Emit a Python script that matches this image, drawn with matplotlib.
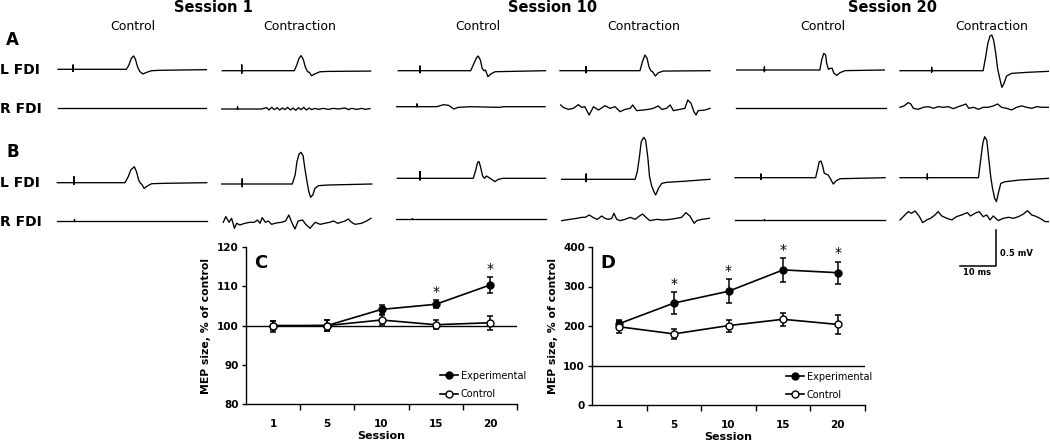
import numpy as np
import matplotlib.pyplot as plt
from matplotlib.lines import Line2D

W, H = 1050, 441
PX_MS = 3.6    # trace panels: pixels per ms
PX_MV = 72.0   # trace panels: pixels per mV

# ---- MEP summary data (panels C and D) ----
sessions = ['1', '5', '10', '15', '20']
c_exp = [100.0, 100.0, 104.1, 105.4, 110.3]
c_exp_err = [1.2, 1.3, 1.2, 1.0, 2.1]
c_ctl = [99.8, 100.0, 101.4, 100.2, 100.7]
c_ctl_err = [1.4, 1.4, 1.3, 1.2, 1.8]
c_sig = [False, False, False, True, True]

d_exp = [206, 258, 288, 342, 335]
d_exp_err = [9, 27, 30, 30, 28]
d_ctl = [198, 180, 201, 217, 204]
d_ctl_err = [15, 13, 15, 17, 23]
d_sig = [False, True, True, True, True]

# ---- example EMG traces, time in ms, amplitude in mV ----
s1_ctl_AL_t = [0, 4.2, 4.2, 4.2, 4.2, 19.0, 19.7, 20.4, 21.0, 21.5, 22.1, 22.7, 23.6, 24.5, 25.9, 28.2, 41.2]
s1_ctl_AL_v = [0, 0, 0.06, -0.03, 0, 0, 0.06, 0.155, 0.185, 0.14, 0.035, -0.03, -0.065, -0.045, -0.02, -0.014, -0.005]
s1_ctl_AR_t = [0, 41.2]
s1_ctl_AR_v = [0, 0]
s1_con_AL_t = [0, 5.4, 5.4, 5.4, 5.4, 20.0, 20.7, 21.3, 21.9, 22.5, 23.1, 23.7, 24.2, 24.8, 25.7, 27.1, 29.4, 41.2]
s1_con_AL_v = [0, 0, 0.08, -0.035, 0, 0, 0.08, 0.17, 0.21, 0.155, 0.045, -0.015, -0.023, -0.07, -0.045, -0.015, -0.01, -0.005]
s1_con_AR_t = [0, 4.4, 4.4, 4.4, 11.1, 12.5, 13.1, 13.9, 14.6, 15.4, 16.1, 16.9, 17.6, 18.3, 19.1, 19.8, 20.6, 21.3,
               22.0, 22.8, 23.5, 24.3, 25.0, 25.9, 26.9, 28.2, 29.6, 31.0, 32.4, 34.3, 35.2, 36.1, 37.5, 38.9, 39.8, 41.2]
s1_con_AR_v = [0, 0, 0.03, 0, 0, 0.019, -0.014, 0.023, -0.009, 0.019, -0.014, 0.014, -0.009, 0.023, -0.014, 0.014,
               -0.019, 0.019, -0.009, 0.023, -0.014, 0.014, -0.009, 0.009, -0.005, 0.009, -0.005, 0.009, 0, 0.014,
               -0.009, 0.009, -0.005, 0.009, -0.005, 0.005]
s1_ctl_BL_t = [0, 4.6, 4.6, 4.6, 4.6, 18.8, 19.7, 20.4, 21.4, 22.0, 22.6, 23.1, 23.5, 24.1, 25.0, 26.2, 29.4, 41.5]
s1_ctl_BL_v = [0, 0, 0.083, -0.023, 0, 0, 0.083, 0.176, 0.222, 0.153, 0.037, -0.009, -0.023, -0.079, -0.046, -0.014, -0.009, 0]
s1_ctl_BR_t = [0, 4.6, 4.6, 4.6, 41.5]
s1_ctl_BR_v = [0, 0, 0.02, 0, 0]
s1_con_BL_t = [0, 5.7, 5.7, 5.7, 5.7, 19.6, 20.4, 20.9, 21.5, 22.0, 22.6, 23.1, 23.7, 24.2, 24.7, 25.3, 25.9, 26.9, 29.6, 41.7]
s1_con_BL_v = [0, 0, 0.07, -0.037, 0, 0, 0.125, 0.31, 0.417, 0.44, 0.394, 0.218, 0.032, -0.106, -0.185, -0.153, -0.06, -0.023, -0.014, 0]
s1_con_BR_t = [0, 0.7, 1.6, 2.3, 3.1, 3.7, 4.6, 6.0, 7.4, 8.6, 9.5, 10.2, 10.8, 11.7, 12.5, 13.4, 14.8, 16.2, 17.3, 18.2,
               19.0, 19.9, 20.8, 22.0, 22.9, 24.1, 25.5, 26.9, 28.2, 29.6, 30.6, 31.8, 32.7, 33.8, 34.7, 35.6, 36.6, 38.4, 39.8, 41.0]
s1_con_BR_v = [0.014, 0.093, 0.014, 0.069, -0.069, 0, -0.023, 0, 0.014, 0.014, 0.046, 0, 0.079, 0.014, 0.032, -0.014,
               0.005, 0.014, 0.032, 0.116, 0.014, -0.079, 0.032, 0.046, -0.014, -0.069, 0.014, -0.014, 0, 0.014,
               0.032, 0, 0.014, 0.032, 0.06, 0.014, -0.014, 0, 0.032, 0.069]

s10_ctl_AL_t = [0, 6.0, 6.0, 6.0, 6.0, 20.1, 21.0, 21.8, 22.2, 22.8, 23.3, 23.8, 24.2, 24.9, 25.7, 26.9, 40.9]
s10_ctl_AL_v = [0, 0, 0.065, -0.028, 0, 0, 0.10, 0.185, 0.204, 0.148, 0.032, 0, 0.009, -0.083, -0.046, -0.014, 0]
s10_ctl_AR_t = [0, 5.6, 5.6, 5.6, 11.1, 13.0, 14.4, 15.9, 17.1, 20.4, 28.7, 29.6, 41.2]
s10_ctl_AR_v = [0, 0, 0.037, 0, 0, 0.028, 0.019, -0.032, -0.009, 0, -0.009, 0, 0]
s10_con_AL_t = [0, 7.2, 7.2, 7.2, 7.2, 22.2, 22.9, 23.6, 24.2, 24.7, 25.2, 25.7, 26.5, 27.3, 28.7, 41.7]
s10_con_AL_v = [0, 0, 0.056, -0.028, 0, 0, 0.125, 0.218, 0.171, 0.056, 0, -0.014, -0.074, -0.028, -0.005, 0]
s10_con_AR_t = [0, 0.7, 2.1, 3.5, 4.9, 5.8, 6.7, 7.9, 9.1, 10.5, 12.3, 13.7, 15.1, 16.5, 17.9, 19.3, 20.0, 21.1,
                22.9, 24.4, 25.7, 27.1, 28.1, 29.4, 30.4, 31.3, 33.1, 34.5, 35.3, 36.2, 37.0, 37.6, 38.2, 40.1, 41.5]
s10_con_AR_v = [0.056, 0.023, -0.005, 0.009, 0.06, 0.023, 0.032, -0.083, 0.032, -0.014, 0.046, 0.009, 0.032, -0.037,
                -0.005, 0.009, 0.056, -0.023, -0.014, -0.005, 0.009, 0.042, -0.005, 0.009, 0.056, -0.023, -0.005,
                0.009, 0.125, 0.079, -0.037, -0.083, -0.023, -0.014, 0.009]
s10_ctl_BL_t = [0, 6.3, 6.3, 6.3, 6.3, 21.1, 21.8, 22.3, 22.7, 23.1, 23.7, 24.2, 24.8, 25.5, 26.2, 27.1, 28.1, 29.4, 41.2]
s10_ctl_BL_v = [0, 0, 0.093, -0.023, 0, 0, 0.116, 0.222, 0.231, 0.162, 0.032, 0, 0.032, 0.009, -0.014, -0.046, -0.014, 0, 0]
s10_ctl_BR_t = [0, 4.5, 4.5, 4.5, 41.6]
s10_ctl_BR_v = [0, 0, 0.02, 0, 0]
s10_con_BL_t = [0, 6.8, 6.8, 6.8, 6.8, 20.4, 21.0, 21.6, 22.1, 22.8, 23.3, 23.9, 24.4, 25.0, 25.6, 26.1, 26.9, 27.8,
                29.2, 33.8, 41.2]
s10_con_BL_v = [0, 0, 0.074, -0.032, 0, 0, 0.106, 0.315, 0.523, 0.583, 0.546, 0.315, 0.037, -0.093, -0.171, -0.218,
                -0.125, -0.056, -0.042, -0.028, 0]
s10_con_BR_t = [0, 2.3, 4.2, 5.6, 6.5, 7.7, 8.8, 9.9, 11.1, 12.0, 13.0, 13.9, 14.5, 15.3, 16.2, 17.6, 19.0, 20.4,
                21.6, 22.5, 23.4, 24.5, 26.4, 28.2, 30.1, 31.9, 33.3, 34.5, 35.6, 36.8, 37.5, 38.9, 41.0]
s10_con_BR_v = [-0.009, 0.009, 0.023, 0.037, 0.037, 0.069, 0.032, 0.009, 0.056, 0.023, 0.009, 0.023, 0.093, 0.009,
                -0.009, 0.009, 0.037, 0.009, 0.056, 0.083, 0.037, -0.009, 0.009, 0, 0.009, 0.023, 0.037, 0.102,
                0.056, -0.046, -0.009, 0.009, 0.023]

s20_ctl_AL_t = [0, 7.7, 7.7, 7.7, 7.7, 23.1, 23.6, 24.2, 24.7, 25.0, 25.5, 25.9, 26.5, 27.0, 27.8, 28.7, 30.1, 41.0]
s20_ctl_AL_v = [0, 0, 0.046, -0.023, 0, 0, 0.139, 0.231, 0.208, 0.093, 0.009, 0.023, 0.023, -0.046, -0.074, -0.037, -0.009, 0]
s20_ctl_AR_t = [0, 41.7]
s20_ctl_AR_v = [0, 0]
s20_con_AL_t = [0, 8.8, 8.8, 8.8, 8.8, 23.1, 23.8, 24.4, 25.0, 25.5, 26.0, 26.6, 27.1, 27.7, 28.3, 28.9, 29.6, 31.0,
                35.2, 41.2]
s20_con_AL_v = [0, 0, 0.046, -0.019, 0, 0, 0.194, 0.38, 0.481, 0.495, 0.426, 0.241, 0.032, -0.106, -0.231, -0.176,
                -0.074, -0.037, -0.023, -0.009]
s20_con_AR_t = [0, 1.1, 2.3, 3.0, 3.7, 5.1, 6.5, 7.9, 9.3, 10.6, 12.0, 13.4, 14.8, 16.2, 17.6, 18.3, 19.1, 20.4,
                21.8, 23.1, 24.5, 25.9, 27.1, 28.2, 29.6, 31.0, 32.4, 33.8, 35.2, 36.6, 38.0, 39.4, 41.2]
s20_con_AR_v = [0, 0.019, 0.065, 0.046, -0.014, -0.028, 0, 0.009, -0.014, 0.009, 0, 0.009, -0.019, 0.009, 0.032,
                0.046, -0.014, 0, -0.028, 0, 0, 0.019, 0.046, 0, -0.014, -0.037, 0, 0.019, 0, -0.014, 0.009, 0, 0]
s20_ctl_BL_t = [0, 7.2, 7.2, 7.2, 7.2, 22.4, 23.0, 23.4, 23.9, 24.4, 24.8, 25.3, 25.9, 26.7, 27.3, 28.1, 29.2, 41.7]
s20_ctl_BL_v = [0, 0, 0.051, -0.023, 0, 0, 0.13, 0.222, 0.231, 0.153, 0.06, 0.051, 0.037, -0.032, -0.088, -0.042, -0.014, 0]
s20_ctl_BR_t = [0, 8.1, 8.1, 8.1, 41.7]
s20_ctl_BR_v = [0, 0, 0.014, 0, 0]
s20_con_BL_t = [0, 7.6, 7.6, 7.6, 7.6, 21.8, 22.4, 23.0, 23.5, 24.1, 24.6, 25.2, 25.7, 26.3, 26.8, 27.3, 28.0, 29.2,
                33.3, 41.2]
s20_con_BL_v = [0, 0, 0.051, -0.023, 0, 0, 0.245, 0.477, 0.569, 0.523, 0.292, 0.014, -0.148, -0.287, -0.333, -0.218,
                -0.079, -0.056, -0.032, -0.009]
s20_con_BR_t = [0, 0.9, 2.3, 3.2, 4.2, 5.4, 6.3, 7.4, 8.5, 9.7, 10.6, 11.6, 13.0, 14.4, 15.7, 17.1, 18.7, 19.6, 20.8,
                22.0, 23.1, 24.1, 25.0, 25.9, 27.3, 28.7, 30.1, 31.5, 32.9, 34.3, 35.4, 36.6, 37.5, 38.9, 40.3, 41.2]
s20_con_BR_v = [-0.023, 0.023, 0.093, 0.069, 0.102, 0.023, -0.060, -0.023, 0, 0.046, 0.093, 0.032, 0, -0.023, 0.023,
                0.046, 0.079, 0.032, 0.069, 0.093, 0.023, 0.046, -0.023, 0.032, -0.032, 0, 0.014, 0, 0.023, 0.060,
                0.106, 0.046, 0.032, 0, -0.046, -0.046]

# where each trace sits on the page: (t, v, left px, baseline px)
slots = [
    (s1_ctl_AL_t, s1_ctl_AL_v, 58, 69.3), (s1_ctl_AR_t, s1_ctl_AR_v, 58, 108.3),
    (s1_ctl_BL_t, s1_ctl_BL_v, 57.3, 182.7), (s1_ctl_BR_t, s1_ctl_BR_v, 57.3, 220.7),
    (s1_con_AL_t, s1_con_AL_v, 222.3, 70.7), (s1_con_AR_t, s1_con_AR_v, 221.7, 109),
    (s1_con_BL_t, s1_con_BL_v, 221.7, 184), (s1_con_BR_t, s1_con_BR_v, 223.3, 223.3),
    (s10_ctl_AL_t, s10_ctl_AL_v, 398.3, 70.7), (s10_ctl_AR_t, s10_ctl_AR_v, 396.7, 106.7),
    (s10_ctl_BL_t, s10_ctl_BL_v, 397.3, 178.3), (s10_ctl_BR_t, s10_ctl_BR_v, 396, 219),
    (s10_con_AL_t, s10_con_AL_v, 560, 70.7), (s10_con_AR_t, s10_con_AR_v, 560.7, 109),
    (s10_con_BL_t, s10_con_BL_v, 561.7, 179.3), (s10_con_BR_t, s10_con_BR_v, 561.7, 220),
    (s20_ctl_AL_t, s20_ctl_AL_v, 736.7, 70), (s20_ctl_AR_t, s20_ctl_AR_v, 736, 107.7),
    (s20_ctl_BL_t, s20_ctl_BL_v, 735, 177.7), (s20_ctl_BR_t, s20_ctl_BR_v, 735, 220),
    (s20_con_AL_t, s20_con_AL_v, 900, 70.7), (s20_con_AR_t, s20_con_AR_v, 900, 107.3),
    (s20_con_BL_t, s20_con_BL_v, 900, 177.7), (s20_con_BR_t, s20_con_BR_v, 900, 218.3),
]

fig = plt.figure(figsize=(W / 100, H / 100), dpi=100)


def fx(x):
    return x / W


def fy(y):
    return 1 - y / H


def trace_axes(x0, base):
    # 42 ms by 1 mV box with 0 mV at the baseline
    a = fig.add_axes([fx(x0), fy(base + 0.5 * PX_MV), 42 * PX_MS / W, PX_MV / H])
    a.set_xlim(0, 42)
    a.set_ylim(-0.5, 0.5)
    a.set_axis_off()
    return a


for t, v, x0, base in slots:
    a = trace_axes(x0, base)
    a.plot(t, v, color='black', lw=0.95, clip_on=False, solid_joinstyle='round')

# scale bar
sb = trace_axes(960, 266)
sb.plot([0, 10, 10], [0, 0, 0.5], color='black', lw=1.1, clip_on=False)
fig.text(fx(1000), fy(256), '0.5 mV', fontsize=6, fontweight='bold', ha='left', va='baseline')
fig.text(fx(977), fy(275), '10 ms', fontsize=6, fontweight='bold', ha='center', va='baseline')

# headers
for x, s in [(213, 'Session 1'), (553, 'Session 10'), (893, 'Session 20')]:
    fig.text(fx(x), fy(11.7), s, fontsize=10.5, fontweight='bold', ha='center', va='baseline')
for x, s in [(133, 'Control'), (300, 'Contraction'), (478, 'Control'), (644, 'Contraction'),
             (823, 'Control'), (992, 'Contraction')]:
    fig.text(fx(x), fy(30.5), s, fontsize=9, ha='center', va='baseline')

fig.text(fx(6), fy(45), 'A', fontsize=12, fontweight='bold', va='baseline')
fig.text(fx(6), fy(156.7), 'B', fontsize=12, fontweight='bold', va='baseline')
for y, s in [(74, 'L FDI'), (113.3, 'R FDI'), (186.7, 'L FDI'), (225.7, 'R FDI')]:
    fig.text(fx(0.5), fy(y), s, fontsize=10, fontweight='bold', va='baseline')


def mep_panel(rect, exp, exp_err, ctl, ctl_err, sig, ylim, yticks, letter, letter_x, leg_x, ylab_x, xlab_y):
    ax = fig.add_axes(rect)
    x = np.arange(len(sessions))
    ax.axhline(100, color='black', lw=1.0, zorder=1)
    ax.errorbar(x, exp, yerr=exp_err, color='black', lw=1.2, elinewidth=1.1, capsize=2, capthick=1.1,
                marker='o', ms=5, mfc='black', mec='black', zorder=3)
    ax.errorbar(x, ctl, yerr=ctl_err, color='black', lw=1.2, elinewidth=1.1, capsize=2, capthick=1.1,
                marker='o', ms=5, mfc='white', mec='black', zorder=4)
    for xi, m, e, s in zip(x, exp, exp_err, sig):
        if s:
            ax.annotate('*', xy=(xi, m + e), xytext=(0, 3), textcoords='offset points',
                        ha='center', va='baseline', fontsize=10)
    ax.set_xlim(-0.5, len(sessions) - 0.5)
    ax.set_ylim(*ylim)
    ax.set_yticks(yticks)
    ax.set_xticks(np.arange(len(sessions)) + 0.5)
    ax.set_xticklabels([])
    ax.set_xticks(x, minor=True)
    ax.set_xticklabels(sessions, minor=True)
    ax.tick_params(axis='x', which='major', direction='out', length=4, width=1)
    ax.tick_params(axis='x', which='minor', length=0, pad=11, labelsize=7.5)
    ax.tick_params(axis='y', direction='out', length=3, width=1, pad=2, labelsize=7.5)
    for lab in ax.get_xticklabels(minor=True) + ax.get_yticklabels():
        lab.set_fontweight('bold')
    for side in ['top', 'right']:
        ax.spines[side].set_visible(False)
    for side in ['left', 'bottom']:
        ax.spines[side].set_linewidth(1.0)
    ax.set_ylabel('MEP size, % of control', fontsize=7.8, fontweight='bold')
    ax.yaxis.set_label_coords(ylab_x, 0.5)
    ax.set_xlabel('Session', fontsize=8, fontweight='bold', va='top')
    ax.xaxis.set_label_coords(0.5, xlab_y)
    handles = [Line2D([], [], color='black', lw=1.2, marker='o', ms=5, mfc='black', mec='black'),
               Line2D([], [], color='black', lw=1.2, marker='o', ms=5, mfc='white', mec='black')]
    ax.legend(handles, ['Experimental', 'Control'], loc='center left', bbox_to_anchor=(leg_x, 0.122),
              frameon=False, fontsize=7, handlelength=1.85, handletextpad=0.3, labelspacing=0.85,
              borderpad=0, borderaxespad=0)
    fig.text(fx(letter_x), fy(268), letter, fontsize=13, fontweight='bold', va='baseline')
    return ax


mep_panel([fx(246), fy(404), 271 / W, 157 / H], c_exp, c_exp_err, c_ctl, c_ctl_err, c_sig,
          (80, 120), [80, 90, 100, 110, 120], 'C', 254, 0.715, -0.13, -0.175)
mep_panel([fx(592), fy(405), 273 / W, 158 / H], d_exp, d_exp_err, d_ctl, d_ctl_err, d_sig,
          (0, 400), [0, 100, 200, 300, 400], 'D', 600, 0.71, -0.125, -0.168)

fig.savefig('out.png', dpi=100)
